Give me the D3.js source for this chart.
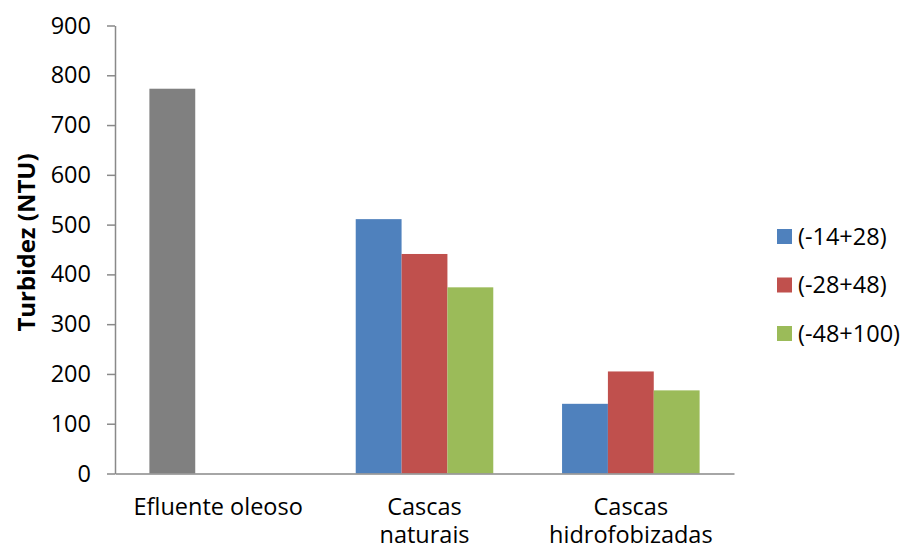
<!DOCTYPE html>
<html>
<head>
<meta charset="utf-8">
<script src="https://cdn.jsdelivr.net/npm/d3@7"></script>
<style>
  body { margin: 0; background: #fff; }
  text { font-family: "Open Sans", sans-serif; fill: #000; }
</style>
</head>
<body>
<div id="chart"></div>
<script>
// data
const categories = ["Efluente oleoso", "Cascas\nnaturais", "Cascas\nhidrofobizadas"];
const seriesNames = ["(-14+28)", "(-28+48)", "(-48+100)"];
const series14 = [773, 511, 140];
const series28 = [null, 441, 205];
const series48 = [null, 374, 167];
const yTicks = [0, 100, 200, 300, 400, 500, 600, 700, 800, 900];

const colors = ["#4F81BD", "#C0504D", "#9BBB59"];
const firstPointColor = "#808080"; // the effluent bar is painted grey

const width = 904, height = 550;
const margin = { top: 25.5, right: 170, bottom: 76.5, left: 115 };

const svg = d3.select("#chart").append("svg")
    .attr("width", width)
    .attr("height", height);

const x0 = d3.scaleBand()
    .domain(categories)
    .range([margin.left, width - margin.right])
    .padding(0);

const x1 = d3.scaleBand()
    .domain(seriesNames)
    .range([0, x0.bandwidth()])
    .paddingInner(0)
    .paddingOuter(0.75);

const y = d3.scaleLinear()
    .domain([0, 900])
    .range([height - margin.bottom, margin.top]);

const allSeries = [series14, series28, series48];

// bars
allSeries.forEach((vals, si) => {
    svg.append("g")
        .selectAll("rect")
        .data(vals.map((v, ci) => ({ v, c: categories[ci], ci })).filter(d => d.v != null))
        .enter().append("rect")
        .attr("x", d => x0(d.c) + x1(seriesNames[si]))
        .attr("y", d => y(d.v))
        .attr("width", x1.bandwidth())
        .attr("height", d => y(0) - y(d.v))
        .attr("fill", d => (si === 0 && d.ci === 0) ? firstPointColor : colors[si]);
});

// y axis
const yAxis = svg.append("g")
    .attr("transform", `translate(${margin.left},0)`)
    .call(d3.axisLeft(y).tickValues(yTicks).tickSize(8).tickSizeOuter(0).tickPadding(16));
yAxis.select(".domain").attr("stroke", "#898989").attr("stroke-width", 1.5);
yAxis.selectAll(".tick line").attr("stroke", "#898989").attr("stroke-width", 1.5);
yAxis.selectAll(".tick text")
    .style("font-family", "'Open Sans', sans-serif")
    .style("font-size", "23.5px")
    .attr("fill", "#000");

// x axis
const xAxis = svg.append("g")
    .attr("transform", `translate(0,${y(0)})`)
    .call(d3.axisBottom(x0).tickSize(0).tickSizeOuter(0).tickFormat(""));
xAxis.select(".domain").attr("stroke", "#898989").attr("stroke-width", 1.5);

svg.append("g")
    .selectAll("text")
    .data(categories)
    .enter().append("text")
    .attr("text-anchor", "middle")
    .style("font-size", "23.5px")
    .each(function (d) {
        const lines = d.split("\n");
        d3.select(this).selectAll("tspan")
            .data(lines)
            .enter().append("tspan")
            .attr("x", x0(d) + x0.bandwidth() / 2)
            .attr("y", (l, i) => y(0) + 41.5 + i * 27.5)
            .text(l => l);
    });

// axis title
svg.append("text")
    .attr("transform", `translate(35,${(y(0) + y(900)) / 2 - 7}) rotate(-90)`)
    .attr("text-anchor", "middle")
    .style("font-size", "24px")
    .style("font-weight", "bold")
    .text("Turbidez (NTU)");

// legend
const legend = svg.append("g")
    .selectAll("g")
    .data(seriesNames)
    .enter().append("g")
    .attr("transform", (d, i) => `translate(777,${236.5 + i * 48.5})`);

legend.append("rect")
    .attr("x", 0)
    .attr("y", -7.5)
    .attr("width", 15)
    .attr("height", 15)
    .attr("fill", (d, i) => colors[i]);

legend.append("text")
    .attr("x", 21)
    .attr("dy", "0.35em")
    .style("font-size", "23.5px")
    .text(d => d);
</script>
</body>
</html>
